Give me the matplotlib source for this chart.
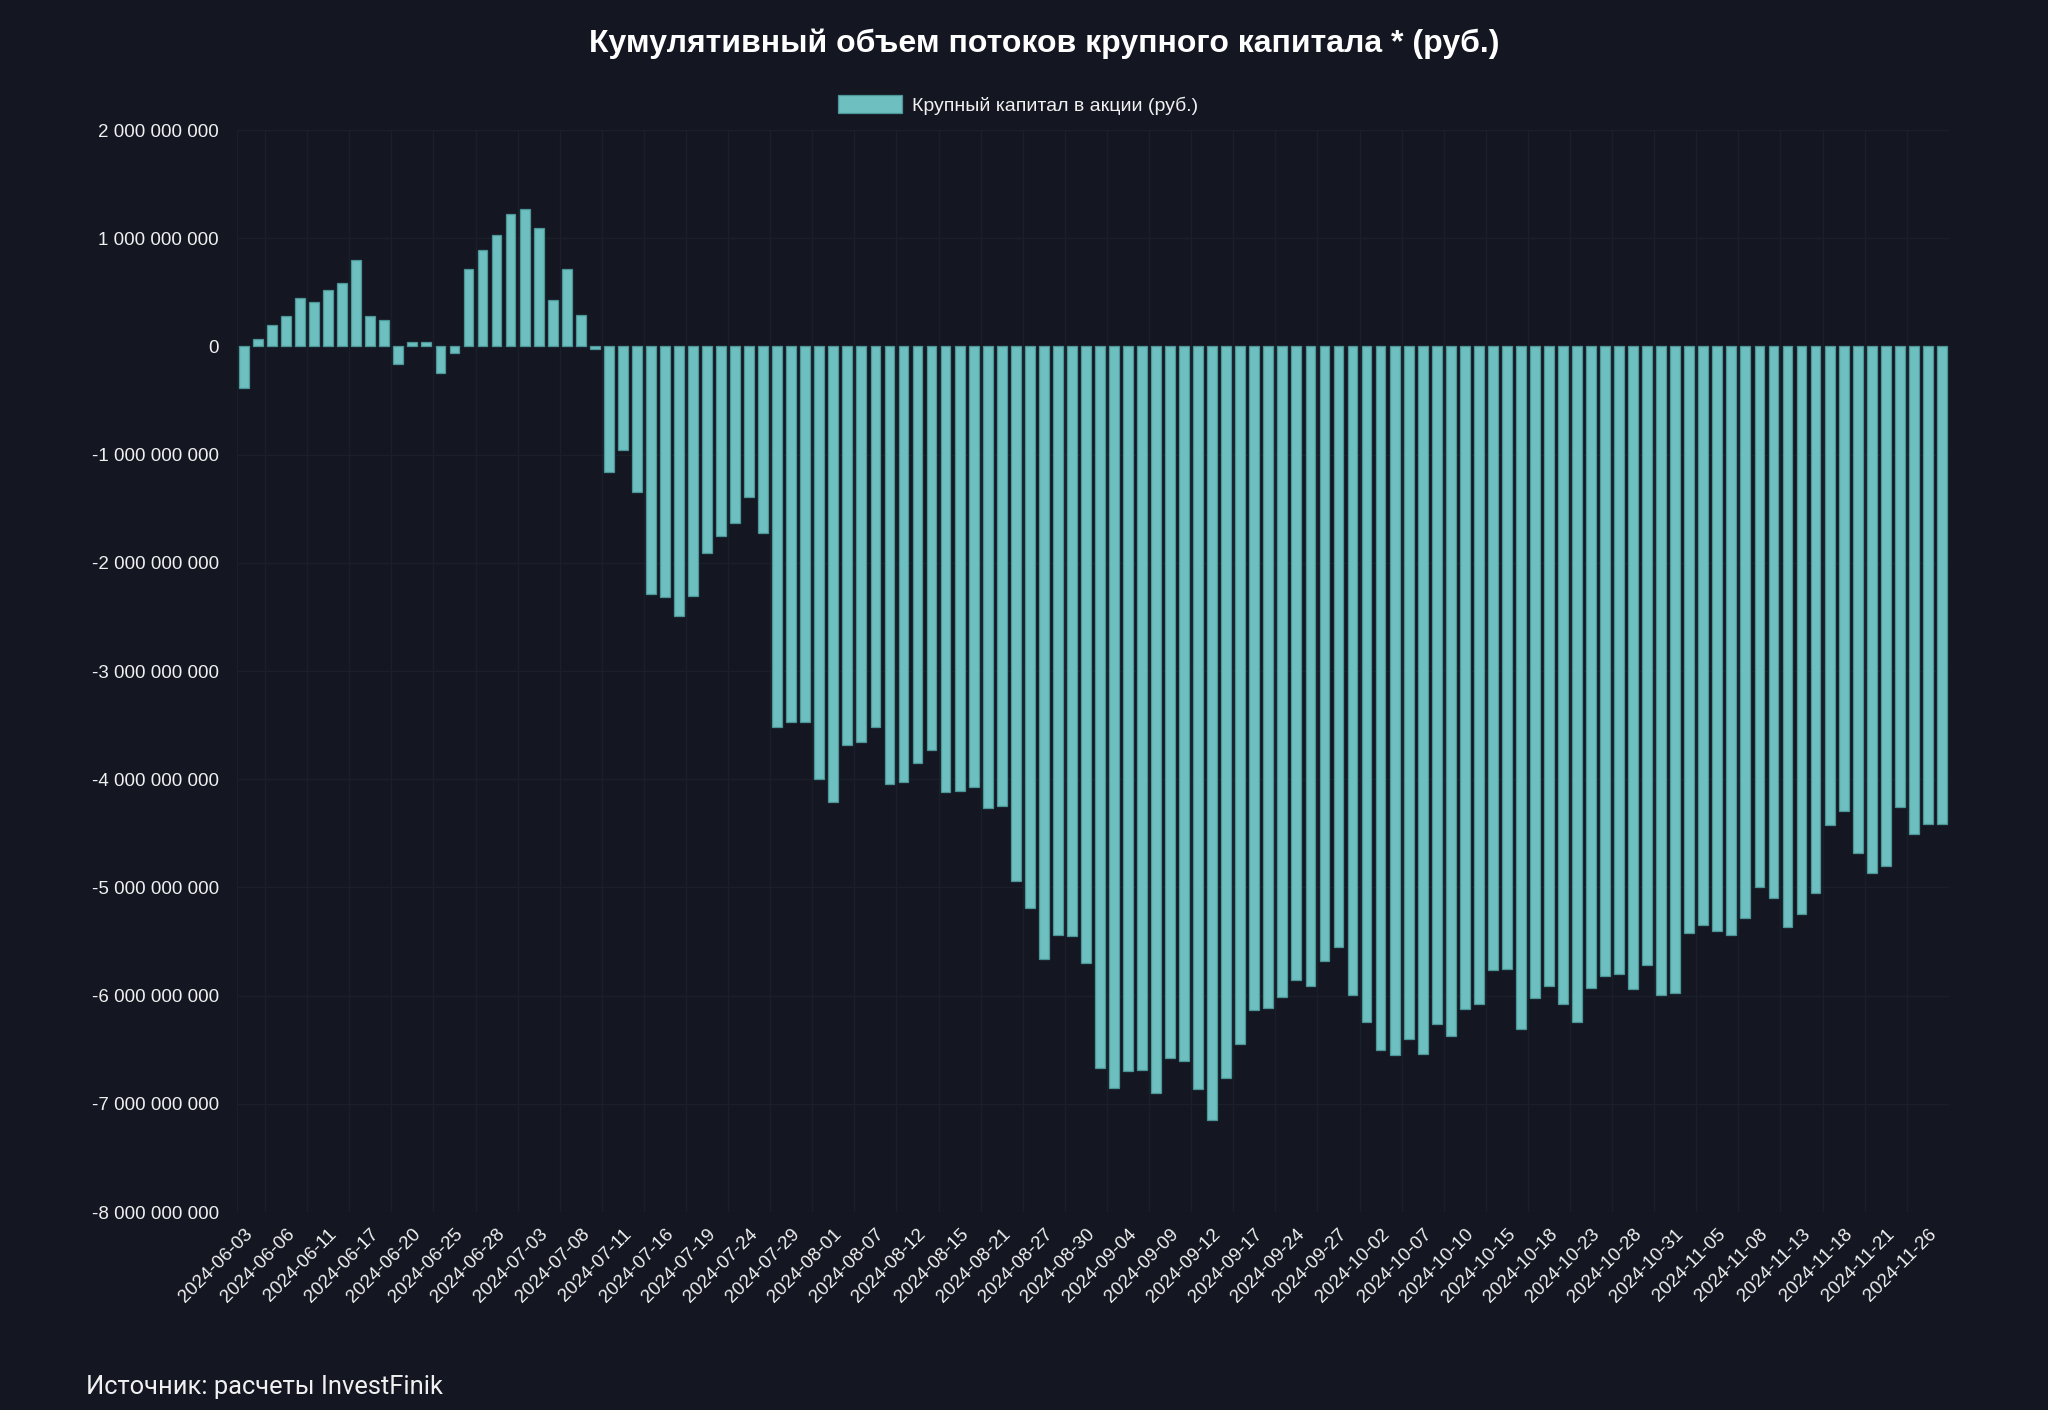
import matplotlib
matplotlib.use('Agg')
import matplotlib.pyplot as plt
from matplotlib.ticker import FuncFormatter
import numpy as np

# --- DATA (cumulative flows, billions of rubles) ---
TICK_LABELS = [
    '2024-06-03', '2024-06-06', '2024-06-11', '2024-06-17', '2024-06-20', '2024-06-25',
    '2024-06-28', '2024-07-03', '2024-07-08', '2024-07-11', '2024-07-16', '2024-07-19',
    '2024-07-24', '2024-07-29', '2024-08-01', '2024-08-07', '2024-08-12', '2024-08-15',
    '2024-08-21', '2024-08-27', '2024-08-30', '2024-09-04', '2024-09-09', '2024-09-12',
    '2024-09-17', '2024-09-24', '2024-09-27', '2024-10-02', '2024-10-07', '2024-10-10',
    '2024-10-15', '2024-10-18', '2024-10-23', '2024-10-28', '2024-10-31', '2024-11-05',
    '2024-11-08', '2024-11-13', '2024-11-18', '2024-11-21', '2024-11-26',
]
LABEL_STEP = 3  # one label for every 3 bars

FLOW_BN = [
    -0.38, 0.065, 0.20, 0.28, 0.45, 0.41, 0.525, 0.59, 0.80, 0.28,
    0.24, -0.16, 0.045, 0.045, -0.25, -0.06, 0.72, 0.89, 1.03, 1.22,
    1.27, 1.09, 0.43, 0.72, 0.29, -0.02, -1.165, -0.957, -1.345, -2.29,
    -2.32, -2.49, -2.31, -1.91, -1.755, -1.63, -1.39, -1.72, -3.52, -3.47,
    -3.47, -4.00, -4.215, -3.68, -3.66, -3.52, -4.04, -4.03, -3.85, -3.73,
    -4.12, -4.11, -4.07, -4.27, -4.245, -4.94, -5.19, -5.66, -5.44, -5.45,
    -5.70, -6.67, -6.85, -6.70, -6.69, -6.90, -6.58, -6.60, -6.86, -7.15,
    -6.76, -6.45, -6.13, -6.11, -6.01, -5.86, -5.91, -5.68, -5.55, -5.99,
    -6.24, -6.50, -6.55, -6.40, -6.54, -6.26, -6.37, -6.12, -6.08, -5.76,
    -5.755, -6.31, -6.02, -5.91, -6.08, -6.245, -5.93, -5.82, -5.80, -5.94,
    -5.72, -5.99, -5.98, -5.42, -5.345, -5.40, -5.44, -5.28, -5.00, -5.10,
    -5.37, -5.25, -5.05, -4.42, -4.295, -4.68, -4.87, -4.80, -4.26, -4.51,
    -4.41, -4.41,
]

Y_TICKS_BN = [2, 1, 0, -1, -2, -3, -4, -5, -6, -7, -8]

# --- STYLE ---
BG = '#141722'
BAR_FILL = '#6dbfc0'
BAR_EDGE = '#4c9697'
GRID = '#1b1f2a'
TEXT = '#f0f0f0'

plt.rcParams['font.family'] = ['Liberation Sans', 'DejaVu Sans']


def fmt_rub(v, _pos):
    # thousands separated by spaces, e.g. "-4 000 000 000"
    return f'{int(round(v)):,}'.replace(',', ' ')


def plot_flows():
    values = np.array(FLOW_BN) * 1e9
    x = np.arange(len(values))

    fig = plt.figure(figsize=(20.48, 14.10), dpi=100, facecolor=BG)
    ax = fig.add_axes([0.1157, 0.1404, 0.8359, 0.7674])
    ax.set_facecolor(BG)

    bars = ax.bar(x, values, width=0.7, color=BAR_FILL, edgecolor=BAR_EDGE,
                  linewidth=0.9, label='Крупный капитал в акции (руб.)', zorder=3)

    ax.set_xlim(-0.5, len(values) - 0.5)
    ax.set_ylim(-8e9, 2e9)

    # x: labelled ticks every 3rd bar, faint grid between categories
    ax.set_xticks(x[::LABEL_STEP])
    ax.set_xticklabels(TICK_LABELS, rotation=45, ha='right', va='top',
                       rotation_mode='anchor', fontsize=13.5, color=TEXT)
    ax.set_xticks(np.arange(1.5, len(values), LABEL_STEP), minor=True)
    ax.tick_params(axis='x', which='both', length=0, pad=10)
    ax.grid(True, axis='x', which='minor', color=GRID, linewidth=1, zorder=0)

    ax.set_yticks(np.array(Y_TICKS_BN) * 1e9)
    ax.yaxis.set_major_formatter(FuncFormatter(fmt_rub))
    ax.tick_params(axis='y', length=0, pad=13, labelsize=13.5, labelcolor=TEXT)
    ax.grid(True, axis='y', which='major', color=GRID, linewidth=1, zorder=0)

    for side in ['top', 'right', 'bottom']:
        ax.spines[side].set_visible(False)
    ax.spines['left'].set_color(GRID)

    fig.text(0.51, 0.969, 'Кумулятивный объем потоков крупного капитала * (руб.)',
             ha='center', va='center', fontsize=23, fontweight='bold', color='white')

    fig.legend(handles=[bars], loc='center', bbox_to_anchor=(0.497, 0.9255),
               frameon=False, fontsize=14, handlelength=3.3, handleheight=1.0,
               handletextpad=0.5, labelcolor=TEXT)

    fig.text(0.042, 0.0165, 'Источник: расчеты InvestFinik', ha='left', va='center',
             fontsize=18.4, color=TEXT, family=['Roboto', 'DejaVu Sans'])

    fig.savefig('out.png', dpi=100, facecolor=BG)


if __name__ == "__main__":
    plot_flows()
